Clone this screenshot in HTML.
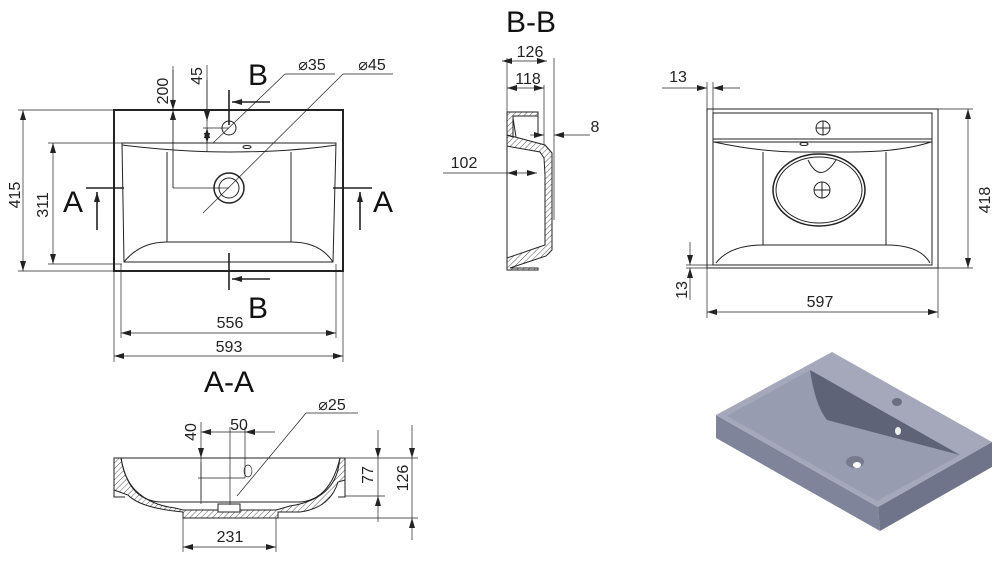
<!DOCTYPE html>
<html><head><meta charset="utf-8"><style>
body{margin:0;background:#fff}
svg{display:block;font-family:"Liberation Sans",sans-serif}
</style></head><body>
<svg width="1000" height="562" viewBox="0 0 1000 562" xmlns="http://www.w3.org/2000/svg">
<defs>
<marker id="ar" viewBox="0 0 10 6" refX="10" refY="3" markerWidth="10" markerHeight="6" orient="auto-start-reverse" markerUnits="userSpaceOnUse"><path d="M0,0L10,3L0,6z" fill="#222"/></marker>
<pattern id="h" width="4" height="4" patternUnits="userSpaceOnUse" patternTransform="rotate(45)"><line x1="0" y1="0" x2="0" y2="4" stroke="#555" stroke-width="1"/></pattern>
</defs>
<g stroke="#222" fill="none" stroke-width="1">
<!-- top-left view -->
<rect x="114" y="110" width="229" height="161" stroke-width="2"/>
<path d="M122,143 H336 L333,262 H124 Z"/>
<path d="M122,145 Q180,152 229,152 Q290,152 336,145"/>
<path d="M167,152 V242 M291,152 V242 M167,242 H291"/>
<path d="M124,262 Q140,242 167,242 M291,242 Q320,242 333,262"/>
<circle cx="229" cy="128" r="7"/>
<circle cx="229" cy="188" r="15" stroke-width="1.5"/><circle cx="229" cy="188" r="10"/>
<ellipse cx="247" cy="147" rx="4" ry="1.5"/>
<g stroke-width="0.7">
<line x1="23" y1="110" x2="23" y2="271" marker-start="url(#ar)" marker-end="url(#ar)"/>
<line x1="18" y1="110" x2="114" y2="110"/><line x1="18" y1="271" x2="114" y2="271"/>
<line x1="53" y1="143" x2="53" y2="264" marker-start="url(#ar)" marker-end="url(#ar)"/>
<line x1="48" y1="143" x2="122" y2="143"/><line x1="48" y1="264" x2="122" y2="264"/>
<line x1="121" y1="333" x2="336" y2="333" marker-start="url(#ar)" marker-end="url(#ar)"/>
<line x1="121" y1="264" x2="121" y2="338"/><line x1="336" y1="264" x2="336" y2="338"/>
<line x1="114" y1="356" x2="343" y2="356" marker-start="url(#ar)" marker-end="url(#ar)"/>
<line x1="114" y1="271" x2="114" y2="362"/><line x1="343" y1="271" x2="343" y2="362"/>
<line x1="173" y1="66" x2="173" y2="188"/><line x1="173" y1="70" x2="173" y2="110" marker-end="url(#ar)"/><line x1="173" y1="110" x2="173" y2="188" marker-start="url(#ar)"/>
<line x1="173" y1="188" x2="229" y2="188"/>
<line x1="207" y1="65" x2="207" y2="152"/><line x1="207" y1="80" x2="207" y2="121" marker-end="url(#ar)"/><line x1="207" y1="128" x2="207" y2="143" marker-start="url(#ar)" marker-end="url(#ar)"/>
<line x1="203" y1="128" x2="229" y2="128"/>
<line x1="213" y1="143" x2="285" y2="74"/><line x1="285" y1="74" x2="335" y2="74"/>
<line x1="203" y1="213" x2="343" y2="74"/><line x1="343" y1="74" x2="393" y2="74"/>
</g>
<g stroke-width="1.6">
<line x1="86" y1="188" x2="124" y2="188"/><line x1="97" y1="230" x2="97" y2="192" marker-end="url(#ar)"/>
<line x1="333" y1="188" x2="372" y2="188"/><line x1="360" y1="230" x2="360" y2="192" marker-end="url(#ar)"/>
<line x1="229" y1="90" x2="229" y2="125"/><line x1="270" y1="102" x2="232" y2="102" marker-end="url(#ar)"/>
<line x1="229" y1="253" x2="229" y2="290"/><line x1="270" y1="279" x2="232" y2="279" marker-end="url(#ar)"/>
</g>
<!-- B-B section -->
<line x1="507" y1="112" x2="507" y2="270"/>
<path d="M507,112 H538 V116 H513 V137 L507,135 Z" fill="url(#h)"/>
<path d="M513,118 L516,137"/>
<path d="M507,135 L515,137 L545,145 L552,153 V250 L546,256 L510,268 L538,268 V270 H507 V258 L545,245 V175 L544,158 L540,152 L512,147 L507,146 Z" fill="url(#h)"/>
<path d="M538,116 V135 M552,170 V205 M552,222 V240"/>
<g stroke-width="0.7">
<line x1="502" y1="61" x2="547" y2="61" marker-start="url(#ar)" marker-end="url(#ar)"/>
<line x1="507" y1="58" x2="507" y2="112"/><line x1="554" y1="58" x2="554" y2="220"/>
<line x1="507" y1="88" x2="544" y2="88" marker-start="url(#ar)" marker-end="url(#ar)"/><line x1="544" y1="85" x2="544" y2="145"/>
<line x1="530" y1="135" x2="544" y2="135" marker-end="url(#ar)"/><line x1="590" y1="135" x2="554" y2="135" marker-end="url(#ar)"/>
<line x1="443" y1="173" x2="507" y2="173"/><line x1="507" y1="173" x2="537" y2="173" marker-start="url(#ar)" marker-end="url(#ar)"/>
</g>
<!-- right top view -->
<rect x="707" y="109" width="231" height="159"/>
<rect x="713" y="113" width="219" height="152"/>
<path d="M713,139 H932 M713,142 H932"/>
<path d="M714,142 Q760,152 800,152 H850 Q900,152 931,142"/>
<path d="M763,152 V245 M886,152 V245 M763,245 H886"/>
<path d="M716,263 Q730,245 763,245 M886,245 Q920,245 930,263"/>
<ellipse cx="819" cy="190" rx="46" ry="36" stroke-width="1.5"/><ellipse cx="819" cy="190" rx="43" ry="33"/>
<path d="M808,160 Q820,185 836,160"/>
<circle cx="823" cy="128" r="7"/><path d="M816,128H830M823,121V135"/>
<circle cx="822" cy="190" r="8"/><path d="M814,190H830M822,182V198"/>
<ellipse cx="804" cy="144" rx="4" ry="1.5"/>
<g stroke-width="0.7">
<line x1="662" y1="88" x2="707" y2="88" marker-end="url(#ar)"/><line x1="740" y1="88" x2="713" y2="88" marker-end="url(#ar)"/>
<line x1="707" y1="82" x2="707" y2="109"/><line x1="713" y1="82" x2="713" y2="113"/>
<line x1="968" y1="109" x2="968" y2="268" marker-start="url(#ar)" marker-end="url(#ar)"/>
<line x1="938" y1="109" x2="973" y2="109"/><line x1="938" y1="268" x2="973" y2="268"/>
<line x1="707" y1="312" x2="938" y2="312" marker-start="url(#ar)" marker-end="url(#ar)"/>
<line x1="707" y1="268" x2="707" y2="318"/><line x1="938" y1="268" x2="938" y2="318"/>
<line x1="690" y1="242" x2="690" y2="265" marker-end="url(#ar)"/><line x1="690" y1="300" x2="690" y2="268" marker-end="url(#ar)"/>
<line x1="686" y1="265" x2="713" y2="265"/><line x1="686" y1="268" x2="707" y2="268"/>
</g>
<!-- A-A section -->
<path d="M114,458 H345 M114,458 V497 H125 M345,458 V497 H338"/>
<path d="M121,458 Q128,500 160,502 H300 Q330,500 340,458"/>
<path d="M114,458 H121 Q124,478 135,490 Q150,505 175,508 L183,510 H276 L290,506 Q330,500 338,470 L340,458 H345 V480 L338,482 Q330,508 300,512 H278 V518 H183 V512 Q140,508 128,495 L114,490 Z" fill="url(#h)"/>
<rect x="218" y="504" width="22" height="8" fill="#fff"/>
<g stroke-width="0.7">
<line x1="201" y1="422" x2="201" y2="458" marker-end="url(#ar)"/><line x1="201" y1="458" x2="201" y2="504"/>
<line x1="201" y1="500" x2="201" y2="462"/>
<line x1="201" y1="432" x2="245" y2="432" marker-start="url(#ar)"/><line x1="245" y1="432" x2="275" y2="432" marker-start="url(#ar)"/>
<line x1="230" y1="427" x2="230" y2="505"/><line x1="245" y1="427" x2="245" y2="478"/>
<line x1="198" y1="478" x2="245" y2="478"/>
<ellipse cx="248" cy="471" rx="4" ry="6"/>
<line x1="237" y1="496" x2="306" y2="413"/><line x1="306" y1="413" x2="358" y2="413"/>
<line x1="378" y1="430" x2="378" y2="458" marker-end="url(#ar)"/><line x1="378" y1="458" x2="378" y2="496"/><line x1="378" y1="522" x2="378" y2="496" marker-end="url(#ar)"/>
<line x1="345" y1="458" x2="418" y2="458"/><line x1="345" y1="496" x2="385" y2="496"/>
<line x1="412" y1="425" x2="412" y2="458" marker-end="url(#ar)"/><line x1="412" y1="540" x2="412" y2="518" marker-end="url(#ar)"/><line x1="412" y1="458" x2="412" y2="518"/>
<line x1="278" y1="518" x2="418" y2="518"/>
<line x1="183" y1="518" x2="183" y2="552"/><line x1="276" y1="518" x2="276" y2="552"/>
<line x1="183" y1="547" x2="276" y2="547" marker-start="url(#ar)" marker-end="url(#ar)"/>
</g>
</g>
<!-- 3D view -->
<g>
<polygon points="716,415 878,507 880,531 716,438" fill="#80849a"/>
<polygon points="878,507 992,442 992,467 880,531" fill="#70748a"/>
<polygon points="716,415 832,352 992,442 878,507" fill="#a4a8ba"/>
<polygon points="727,416 810,370 960,455 877,501" fill="#989cb0"/>
<path d="M810,370 Q815,405 827,420 L960,455 Z" fill="#5f6377"/>
<ellipse cx="855" cy="462" rx="9" ry="6" fill="#777b8e"/><ellipse cx="857" cy="465" rx="4" ry="3" fill="#fff"/>
<ellipse cx="898" cy="431" rx="3" ry="4" fill="#eee"/>
<ellipse cx="897" cy="402" rx="5" ry="4" fill="#6a6e80"/>
</g>
<g fill="#222" font-size="16">
<text x="20" y="195" transform="rotate(-90 20 195)" text-anchor="middle">415</text>
<text x="48" y="205" transform="rotate(-90 48 205)" text-anchor="middle">311</text>
<text x="168" y="91" transform="rotate(-90 168 91)" text-anchor="middle">200</text>
<text x="202" y="76" transform="rotate(-90 202 76)" text-anchor="middle">45</text>
<text x="312" y="70" text-anchor="middle">⌀35</text>
<text x="372" y="70" text-anchor="middle">⌀45</text>
<text x="230" y="328" text-anchor="middle">556</text>
<text x="229" y="352" text-anchor="middle">593</text>
<text x="530" y="57" text-anchor="middle">126</text>
<text x="528" y="84" text-anchor="middle">118</text>
<text x="595" y="132" text-anchor="middle">8</text>
<text x="464" y="168" text-anchor="middle">102</text>
<text x="678" y="82" text-anchor="middle">13</text>
<text x="990" y="200" transform="rotate(-90 990 200)" text-anchor="middle">418</text>
<text x="687" y="290" transform="rotate(-90 687 290)" text-anchor="middle">13</text>
<text x="820" y="307" text-anchor="middle">597</text>
<text x="196" y="432" transform="rotate(-90 196 432)" text-anchor="middle">40</text>
<text x="239" y="430" text-anchor="middle">50</text>
<text x="332" y="410" text-anchor="middle">⌀25</text>
<text x="373" y="475" transform="rotate(-90 373 475)" text-anchor="middle">77</text>
<text x="408" y="478" transform="rotate(-90 408 478)" text-anchor="middle">126</text>
<text x="230" y="542" text-anchor="middle">231</text>
</g>
<g fill="#111" font-size="30">
<text x="73" y="212" text-anchor="middle">A</text>
<text x="383" y="212" text-anchor="middle">A</text>
<text x="258" y="85" text-anchor="middle">B</text>
<text x="258" y="318" text-anchor="middle">B</text>
<text x="531" y="32" text-anchor="middle">B-B</text>
<text x="229" y="392" text-anchor="middle">A-A</text>
</g>
</svg>
</body></html>
